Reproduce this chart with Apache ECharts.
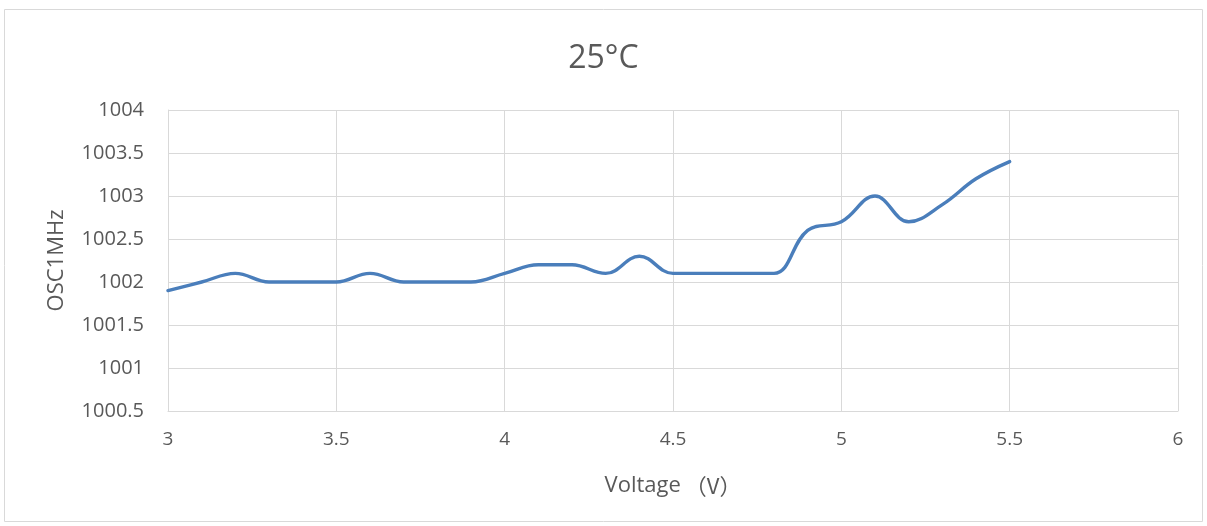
<!DOCTYPE html>
<html><head><meta charset="utf-8">
<script src="https://cdn.jsdelivr.net/npm/echarts@6/dist/echarts.min.js"></script>
<style>html,body{margin:0;padding:0;background:#fff}#c{width:1207px;height:526px}</style>
</head><body><div id="c"></div>
<script>
const voltage = [3.0,3.1,3.2,3.3,3.4,3.5,3.6,3.7,3.8,3.9,4.0,4.1,4.2,4.3,4.4,4.5,4.6,4.7,4.8,4.9,5.0,5.1,5.2,5.3,5.4,5.5];
const osc = [1001.9,1002.0,1002.1,1002.0,1002.0,1002.0,1002.1,1002.0,1002.0,1002.0,1002.1,1002.2,1002.2,1002.1,1002.3,1002.1,1002.1,1002.1,1002.1,1002.6,1002.7,1003.0,1002.7,1002.9,1003.2,1003.4];
const titleText = '25°C';
const xNameMain = 'Voltage';
const xNameUnit = '（V）';
const yName = 'OSC1MHz';
const font = '"Open Sans", "Noto Sans CJK SC", sans-serif';
const cjk = '"Noto Sans CJK SC", sans-serif';
const chart = echarts.init(document.getElementById('c'), null, {renderer:'canvas'});
chart.setOption({
  animation:false,
  graphic:[{type:'rect',shape:{x:4.5,y:9.5,width:1198,height:512},style:{fill:'none',stroke:'#d9d9d9',lineWidth:1}}],
  title:{text:titleText,left:'center',top:38,textStyle:{fontFamily:font,fontSize:32,fontWeight:'normal',color:'#595959'}},
  grid:{left:168,right:29,top:110,bottom:115},
  xAxis:{type:'value',min:3,max:6,interval:0.5,name:'{a|'+xNameMain+'}{b|'+xNameUnit+'}',nameLocation:'middle',nameGap:64,
    nameTextStyle:{fontFamily:font,fontSize:22,color:'#595959',
      rich:{a:{fontFamily:font,fontSize:22,color:'#595959'},b:{fontFamily:cjk,fontSize:22,color:'#595959',padding:[0,0,0,4]}}},
    axisLine:{show:true,lineStyle:{color:'#d9d9d9',width:1}},axisTick:{show:false},
    axisLabel:{fontFamily:font,fontSize:19,color:'#595959',margin:19,formatter:v=>String(v)},
    splitLine:{show:true,lineStyle:{color:'#d9d9d9',width:1}}},
  yAxis:{type:'value',min:1000.5,max:1004,interval:0.5,name:yName,nameLocation:'middle',nameGap:100,
    nameTextStyle:{fontFamily:font,fontSize:22,color:'#595959'},
    axisLine:{show:true,lineStyle:{color:'#d9d9d9',width:1}},axisTick:{show:false},
    axisLabel:{fontFamily:font,fontSize:20,color:'#595959',margin:24,formatter:v=>String(v)},
    splitLine:{show:true,lineStyle:{color:'#d9d9d9',width:1}}},
  series:[{type:'line',data:voltage.map((v,i)=>[v,osc[i]]),smooth:0.4,showSymbol:false,
    lineStyle:{color:'#4a7ebb',width:3.4,cap:'round'}}]
});
</script></body></html>
